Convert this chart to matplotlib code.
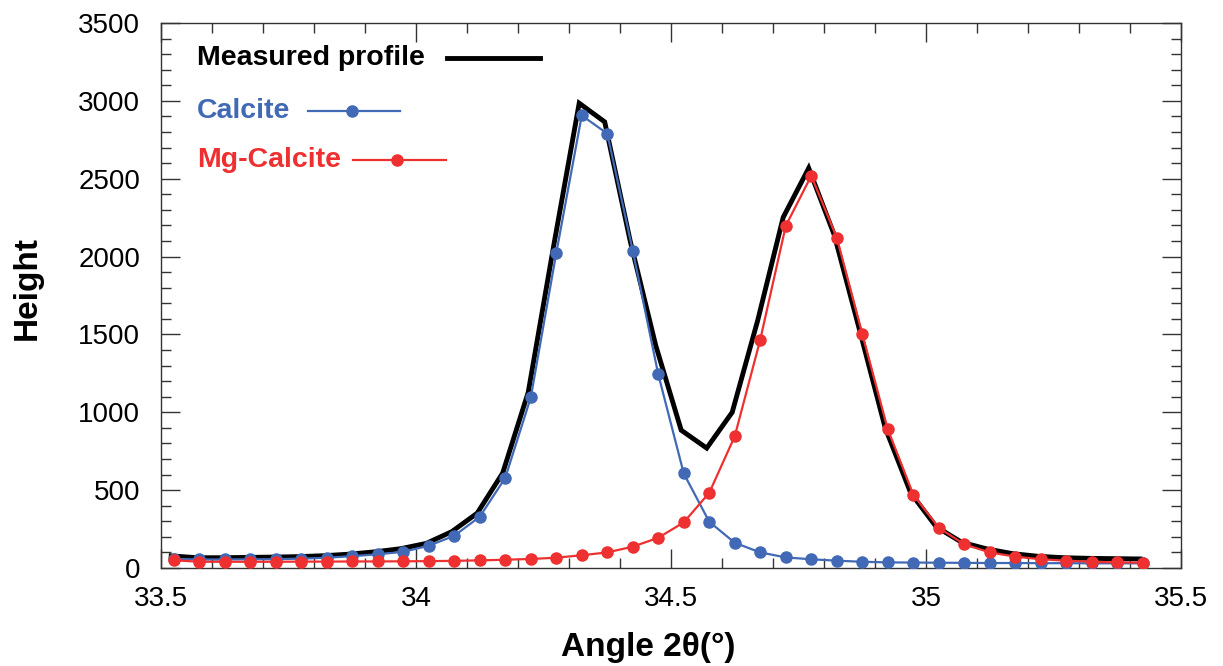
import matplotlib
matplotlib.use("Agg")
import matplotlib.pyplot as plt
from matplotlib.ticker import MultipleLocator, FormatStrFormatter

# ---- data ----
angle_components = [33.525, 33.575, 33.625, 33.675, 33.725, 33.775, 33.825, 33.875, 33.925, 33.975,
                    34.025, 34.075, 34.125, 34.175, 34.225, 34.275, 34.325, 34.375, 34.425, 34.475,
                    34.525, 34.575, 34.625, 34.675, 34.725, 34.775, 34.825, 34.875, 34.925, 34.975,
                    35.025, 35.075, 35.125, 35.175, 35.225, 35.275, 35.325, 35.375, 35.425]
angle_measured = [33.52, 33.57, 33.62, 33.67, 33.72, 33.77, 33.82, 33.87, 33.92, 33.97,
                  34.02, 34.07, 34.12, 34.17, 34.22, 34.27, 34.32, 34.37, 34.42, 34.47,
                  34.52, 34.57, 34.62, 34.67, 34.72, 34.77, 34.82, 34.87, 34.92, 34.97,
                  35.02, 35.07, 35.12, 35.17, 35.22, 35.27, 35.32, 35.37, 35.42]
measured = [78, 66, 66, 68, 70, 73, 79, 89, 104, 124,
            158, 233, 352, 610, 1128, 2070, 2985, 2865, 2100, 1430,
            885, 770, 1000, 1590, 2252, 2568, 2140, 1525, 900, 482,
            265, 165, 122, 92, 75, 66, 62, 60, 58]
calcite = [58, 55, 55, 56, 57, 60, 66, 76, 88, 104,
           143, 207, 329, 579, 1095, 2022, 2906, 2790, 2038, 1244,
           607, 297, 162, 100, 68, 56, 47, 40, 36, 35,
           34, 33, 32, 32, 31, 31, 30, 30, 30]
mg_calcite = [50, 40, 40, 40, 40, 41, 41, 42, 42, 43,
              44, 46, 49, 53, 58, 66, 82, 100, 137, 194,
              293, 483, 846, 1466, 2197, 2519, 2122, 1504, 891, 472,
              258, 152, 100, 73, 56, 47, 40, 36, 34]

BLUE = "#4169B5"
RED = "#EE3030"

plt.rcParams['font.family'] = ['Liberation Sans', 'DejaVu Sans']

fig = plt.figure(figsize=(12.23, 6.66), dpi=100)
ax = fig.add_axes([161/1223, 1 - 568/666, (1181-161)/1223, (568-23)/666])

ax.plot(angle_measured, measured, color="black", lw=3.5, zorder=2, solid_joinstyle='miter')
ax.plot(angle_components, calcite, color=BLUE, lw=1.6, marker='o', ms=8, zorder=3)
ax.plot(angle_components, mg_calcite, color=RED, lw=1.6, marker='o', ms=8, zorder=4)

ax.set_xlim(33.5, 35.5)
ax.set_ylim(0, 3500)
ax.xaxis.set_major_locator(MultipleLocator(0.5))
ax.xaxis.set_minor_locator(MultipleLocator(0.1))
ax.yaxis.set_major_locator(MultipleLocator(500))
ax.yaxis.set_minor_locator(MultipleLocator(100))
ax.xaxis.set_major_formatter(FormatStrFormatter('%g'))
ax.tick_params(which='both', direction='in', top=True, right=True, color='#333333', width=1.0)
ax.tick_params(which='major', length=14, labelsize=20, pad=15)
ax.tick_params(which='minor', length=7)
ax.tick_params(axis='x', which='major', pad=13)
for s in ax.spines.values():
    s.set_linewidth(1.0)
    s.set_color('#333333')

ax.set_xlabel('Angle 2θ(°)', fontsize=24, fontweight='bold')
ax.set_ylabel('Height', fontsize=24, fontweight='bold')
ax.xaxis.set_label_coords(0.4775, -0.118)
ax.yaxis.set_label_coords(-0.116, 0.514)

# legend-like annotations
tr = ax.transAxes
ax.text(0.0353, 0.936, 'Measured profile', transform=tr, fontsize=20.5, fontweight='bold',
        color='black', va='center', ha='left')
ax.plot([0.2804, 0.3716], [0.936, 0.936], transform=tr, color='black', lw=3.5, clip_on=False)
ax.text(0.0353, 0.8385, 'Calcite', transform=tr, fontsize=20.5, fontweight='bold',
        color=BLUE, va='center', ha='left')
ax.plot([0.1441, 0.2343], [0.8385, 0.8385], transform=tr, color=BLUE, lw=1.6, clip_on=False)
ax.plot([0.1873], [0.8385], transform=tr, color=BLUE, marker='o', ms=8, clip_on=False)
ax.text(0.0353, 0.7486, 'Mg-Calcite', transform=tr, fontsize=20.5, fontweight='bold',
        color=RED, va='center', ha='left')
ax.plot([0.1882, 0.2794], [0.7486, 0.7486], transform=tr, color=RED, lw=1.6, clip_on=False)
ax.plot([0.2314], [0.7486], transform=tr, color=RED, marker='o', ms=8, clip_on=False)

fig.savefig('out.png', dpi=100)
